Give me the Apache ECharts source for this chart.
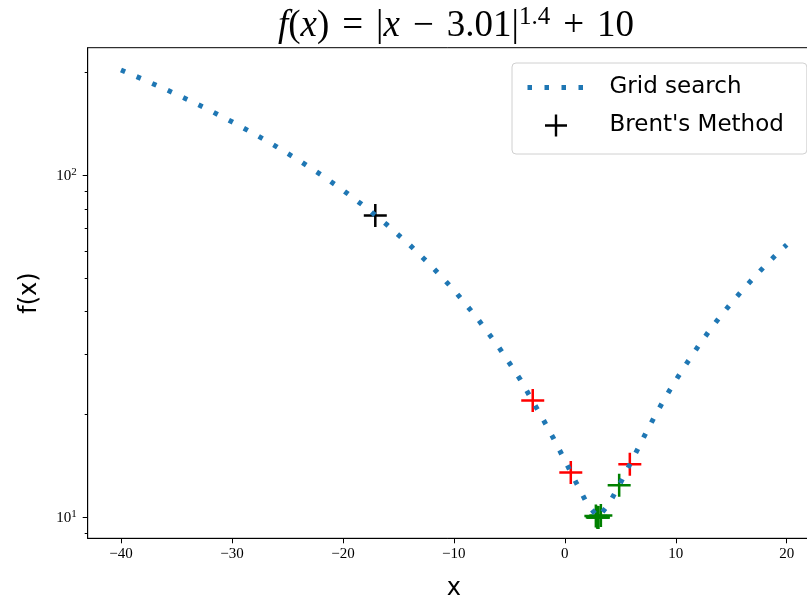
<!DOCTYPE html>
<html><head><meta charset="utf-8">
<script src="https://cdn.jsdelivr.net/npm/echarts@6/dist/echarts.min.js"></script>
<style>html,body{margin:0;padding:0;background:#fff}#c{width:807px;height:600px}</style>
</head><body><div id="c"></div>
<script>
// Grid search curve
const gridX = [-40,-38,-36,-34,-32,-30,-28,-26,-24,-22,-20,-18,-16,-14,-12,-10,-8,-6,-4,-2,-1,0,1,2,3,4,5,6,7,8,9,10,11,12,13,14,15,16,17,18,19,20];
const gridY = [203.6,191.1,178.9,166.9,155.2,143.7,132.5,121.6,111.0,100.7,90.7,81.0,71.7,62.8,54.3,46.3,38.7,31.7,25.3,19.5,17.0,14.7,12.7,11.0,10.0,11.0,12.6,14.6,16.9,19.5,22.3,25.2,28.3,31.6,35.1,38.7,42.4,46.2,50.2,54.3,58.5,62.8];
// Brent's method evaluations
const brentBlack = [[-17.08, 76.5]];
const brentRed = [[-2.89, 22.0], [0.54, 13.55], [5.86, 14.33]];
const brentGreen = [[4.90, 12.44], [2.80, 10.11], [3.25, 10.14], [2.92, 10.03], [3.02, 10.0], [3.0, 10.0]];
// Tick values
const xTicks = [-40, -30, -20, -10, 0, 10, 20];
const yMajorTicks = [10, 100];
const yMinorTicks = [9, 20, 30, 40, 50, 60, 70, 80, 90, 200];

const plusPath = 'path://M0,9.8H22V12.2H0Z M9.8,0H12.2V22H9.8Z';
const serif = 'Liberation Serif';
const sans = 'DejaVu Sans';
const dotted = {color: '#1f77b4', width: 5, type: [4.5, 12.5], cap: 'butt'};

const chart = echarts.init(document.getElementById('c'), null, {renderer: 'canvas'});
const yMin = 8.7, yMax = 236.6;
chart.setOption({
  animation: false,
  backgroundColor: '#fff',
  title: {
    text: '{i|f}{n|(}{i|x}{n|)}{o|=}{n||}{i|x}{o|\u2212}{n|3.01|}{s|1.4}{o|+}{n|10}',
    left: 451, top: 0, textAlign: 'center',
    textStyle: {
      fontWeight: 'normal',
      rich: {
        i: {fontFamily: serif, fontStyle: 'italic', fontWeight: 'normal', fontSize: 37, color: '#000'},
        n: {fontFamily: serif, fontWeight: 'normal', fontSize: 37, color: '#000'},
        o: {fontFamily: serif, fontWeight: 'normal', fontSize: 37, color: '#000', padding: [0, 13, 0, 13]},
        s: {fontFamily: serif, fontWeight: 'normal', fontSize: 25, color: '#000', padding: [0, 0, 18, 0]}
      }
    }
  },
  grid: {left: 87.7, top: 47.7, width: 732.3, height: 490.6, show: true, borderColor: '#000', borderWidth: 1, backgroundColor: 'transparent', containLabel: false, outerBoundsMode: 'none'},
  legend: {
    data: [
      {name: 'Grid search', itemStyle: {opacity: 0}, lineStyle: dotted},
      {name: "Brent's Method", icon: plusPath, itemStyle: {color: '#000', opacity: 1}}
    ],
    orient: 'vertical', left: 512, top: 63,
    itemWidth: 57, itemHeight: 22, itemGap: 15,
    padding: [13, 23, 17, 13],
    backgroundColor: '#fff', borderColor: '#d0d0d0', borderWidth: 1, borderRadius: 4,
    selectedMode: false,
    textStyle: {fontFamily: sans, fontSize: 23, color: '#000', padding: [0, 0, 0, 20]}
  },
  xAxis: {
    type: 'value', min: -43, max: 23,
    axisLine: {onZero: false, lineStyle: {color: '#000', width: 1}},
    axisTick: {customValues: xTicks, length: 5, lineStyle: {color: '#000', width: 1}},
    axisLabel: {customValues: xTicks, formatter: v => (v < 0 ? '\u2212' + (-v) : '' + v), fontFamily: serif, fontSize: 15, color: '#000', margin: 8},
    splitLine: {show: false},
    name: 'x', nameLocation: 'middle', nameGap: 38,
    nameTextStyle: {fontFamily: sans, fontSize: 24, color: '#000'}
  },
  yAxis: [{
    type: 'log', logBase: 10, min: yMin, max: yMax, position: 'left',
    axisLine: {show: true, onZero: false, lineStyle: {color: '#000', width: 1}},
    axisTick: {show: true, customValues: yMajorTicks, length: 5, lineStyle: {color: '#000', width: 1}},
    axisLabel: {
      customValues: yMajorTicks, margin: 11,
      formatter: v => '{b|10}{s|' + Math.round(Math.log10(v)) + '}',
      rich: {
        b: {fontFamily: serif, fontSize: 15, color: '#000'},
        s: {fontFamily: serif, fontSize: 11, color: '#000', padding: [0, 0, 8, 0]}
      }
    },
    splitLine: {show: false},
    name: 'f(x)', nameLocation: 'middle', nameGap: 46, nameRotate: 90,
    nameTextStyle: {fontFamily: sans, fontSize: 24, color: '#000'}
  }, {
    type: 'log', logBase: 10, min: yMin, max: yMax, position: 'left', offset: 0,
    axisLine: {show: false, onZero: false},
    axisTick: {show: true, customValues: yMinorTicks, length: 3, lineStyle: {color: '#000', width: 1}},
    axisLabel: {show: false},
    splitLine: {show: false}
  }],
  series: [
    {type: 'scatter', name: "Brent's Method", data: brentBlack, symbol: plusPath, symbolSize: 23, itemStyle: {color: '#000000', opacity: 1}, z: 2},
    {type: 'scatter', name: "Brent's Method", data: brentRed, symbol: plusPath, symbolSize: 23, itemStyle: {color: '#ff0000', opacity: 1}, z: 2},
    {type: 'scatter', name: "Brent's Method", data: brentGreen, symbol: plusPath, symbolSize: 23, itemStyle: {color: '#008000', opacity: 1}, z: 2},
    {type: 'line', name: 'Grid search', data: gridX.map((x, i) => [x, gridY[i]]), showSymbol: false, symbol: 'none',
     lineStyle: dotted, itemStyle: {color: '#1f77b4'}, z: 3}
  ]
});
</script></body></html>
